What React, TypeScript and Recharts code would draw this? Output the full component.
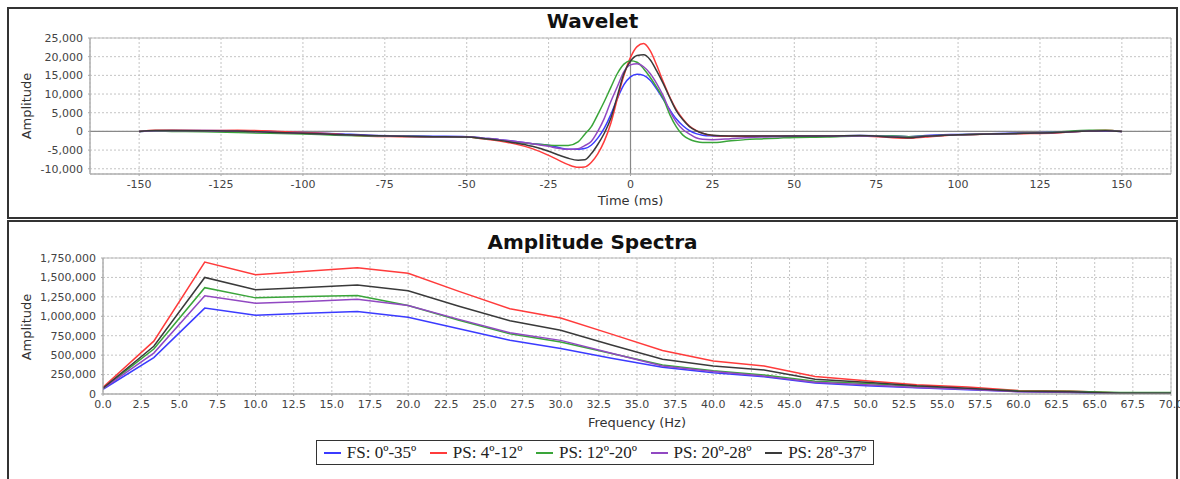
import {
  LineChart,
  Line,
  XAxis,
  YAxis,
  CartesianGrid,
  ReferenceLine,
  ReferenceArea,
} from 'recharts';

// wavelet samples (ms) and amplitudes per angle range
const waveTime = [
  -150, -145, -140, -130, -120, -110, -100, -90, -80, -70, -60, -50,
  -45, -40, -35, -30, -25,
  -22, -19, -16, -14, -12, -10, -8, -6, -4, -2,
  0, 2, 4, 6, 8, 10, 12, 14, 16, 18, 20, 22,
  25, 30, 35, 40, 45, 50,
  60, 70, 80, 85, 90, 100, 110, 120, 130, 140, 145, 150,
];
const waveFS = [
  0, 200, 250, 250, 200, 0, -300, -600, -1000, -1200, -1300, -1400,
  -1800, -2200, -2700, -3300, -3700,
  -4300, -4800, -4800, -4600, -3700, -1800, 900, 4500, 8800, 12500,
  14600, 15300, 15000, 13700, 11300, 8600, 5800, 3300, 1500, 200, -600, -1000,
  -1200, -1300, -1300, -1300, -1300, -1200,
  -1200, -1100, -1200, -1400, -1100, -800, -600, -400, -200, 100, 100, 0,
];
const wavePS1 = [
  0, 300, 300, 250, 300, 100, -300, -700, -1300, -1400, -1500, -1500,
  -2000, -2600, -3400, -4600, -6400,
  -7700, -8900, -9600, -9500, -8300, -6000, -2600, 2200, 8800, 15000,
  19800, 22700, 23500, 21600, 17700, 13300, 9200, 5800, 3300, 1400, 300, -500,
  -1100, -1300, -1300, -1300, -1300, -1300,
  -1300, -1200, -1700, -1800, -1500, -900, -700, -600, -400, 150, 300, 0,
];
const wavePS2 = [
  0, 100, 0, -100, -300, -500, -700, -1000, -1200, -1300, -1400, -1500,
  -1900, -2300, -2900, -3300, -3700,
  -3800, -3750, -2800, -800, 1200, 4500, 8000, 11800, 15500, 18000,
  18900, 18500, 16800, 14500, 11800, 8800, 4500, 1200, -1000, -2100, -2700, -3000,
  -3000, -2600, -2200, -2000, -1800, -1600,
  -1500, -1200, -1200, -1400, -1200, -900, -700, -500, -200, 300, 300, 0,
];
const wavePS3 = [
  0, 200, 200, 150, 50, -200, -500, -800, -1100, -1300, -1400, -1400,
  -1800, -2200, -2700, -3300, -4000,
  -4500, -4800, -4650, -3800, -2700, 0, 3500, 8000, 12000, 16000,
  17800, 18100, 17300, 15500, 12800, 9500, 5500, 2500, 500, -700, -1700, -2100,
  -2200, -2000, -1700, -1500, -1400, -1300,
  -1300, -1200, -1400, -1600, -1300, -900, -700, -500, -300, 100, 200, 0,
];
const wavePS4 = [
  0, 250, 250, 200, 100, -200, -500, -800, -1100, -1300, -1400, -1500,
  -1900, -2400, -3100, -4000, -5300,
  -6300, -7200, -7700, -7600, -6000, -3500, -500, 3500, 9500, 15500,
  18800, 20300, 20500, 19200, 16200, 12800, 9000, 5500, 3100, 1300, 200, -500,
  -1000, -1200, -1200, -1200, -1200, -1200,
  -1200, -1100, -1500, -1700, -1300, -900, -700, -500, -300, 100, 200, 0,
];

// amplitude spectra (Hz)
const freq = [
  0, 3.33, 6.67, 10, 13.33, 16.67, 20, 23.33, 26.67, 30, 33.33, 36.67, 40,
  43.33, 46.67, 50, 53.33, 56.67, 60, 63.33, 66.67, 70,
];
const specFS = [
  61000, 469000, 1105000, 1013000, 1040000, 1061000, 987000, 840000, 693000,
  585000, 460000, 343000, 274000, 222000, 143000, 107000, 80000, 54000, 31000,
  18000, 5000, 5000,
];
const specPS1 = [
  88000, 680000, 1697000, 1535000, 1580000, 1623000, 1553000, 1320000,
  1096000, 978000, 770000, 561000, 426000, 361000, 225000, 170000, 120000,
  90000, 45000, 40000, 13000, 13000,
];
const specPS2 = [
  70000, 579000, 1368000, 1237000, 1255000, 1268000, 1140000, 950000, 776000,
  668000, 520000, 374000, 300000, 243000, 165000, 135000, 95000, 65000, 40000,
  35000, 18000, 18000,
];
const specPS3 = [
  68000, 526000, 1263000, 1167000, 1190000, 1219000, 1140000, 960000, 789000,
  690000, 525000, 361000, 291000, 230000, 152000, 120000, 85000, 60000, 28000,
  22000, 8000, 8000,
];
const specPS4 = [
  75000, 614000, 1500000, 1342000, 1370000, 1404000, 1329000, 1130000, 943000,
  820000, 630000, 448000, 361000, 309000, 191000, 150000, 105000, 75000, 35000,
  30000, 10000, 10000,
];

const seriesKeys = ['fs', 'ps1', 'ps2', 'ps3', 'ps4'];
const seriesNames = ['FS: 0º-35º', 'PS: 4º-12º', 'PS: 12º-20º', 'PS: 20º-28º', 'PS: 28º-37º'];
const seriesColors = ['#3b3bff', '#ff3b3b', '#3aa53a', '#9148c2', '#3a3a3a'];

const waveTicksX = [-150, -125, -100, -75, -50, -25, 0, 25, 50, 75, 100, 125, 150];
const waveTicksY = [-10000, -5000, 0, 5000, 10000, 15000, 20000, 25000];
const specTicksX = Array.from({ length: 29 }, (_, i) => i * 2.5);
const specTicksY = [0, 250000, 500000, 750000, 1000000, 1250000, 1500000, 1750000];

const waveRows = waveTime.map((t, i) => ({
  x: t,
  fs: waveFS[i],
  ps1: wavePS1[i],
  ps2: wavePS2[i],
  ps3: wavePS3[i],
  ps4: wavePS4[i],
}));
const specRows = freq.map((f, i) => ({
  x: f,
  fs: specFS[i],
  ps1: specPS1[i],
  ps2: specPS2[i],
  ps3: specPS3[i],
  ps4: specPS4[i],
}));

const SANS = '"DejaVu Sans", Verdana, sans-serif';
const tickStyle = { fontSize: 11, fill: '#444', fontFamily: SANS };
const fmt = (v: number) => v.toLocaleString('en-US');

const abs = (left: number, top: number, extra: any = {}) => ({
  position: 'absolute' as const,
  left,
  top,
  ...extra,
});

function Plot({ top, rows, xDomain, yDomain, xTicks, yTicks, xFmt, yAxisWidth, zeroLines, curve }: any) {
  return (
    <div style={abs(0, top)}>
      <LineChart
        width={1180}
        height={220}
        data={rows}
        margin={{ top: 38, right: 9, left: 0, bottom: 16 }}
      >
        <CartesianGrid stroke="#c4c4c4" strokeDasharray="2 2" />
        <XAxis
          dataKey="x"
          type="number"
          domain={xDomain}
          ticks={xTicks}
          tickFormatter={xFmt}
          allowDataOverflow
          height={30}
          tick={tickStyle}
          tickSize={2}
          tickMargin={4}
          axisLine={{ stroke: '#aaa' }}
          tickLine={{ stroke: '#aaa' }}
          interval={0}
        />
        <YAxis
          type="number"
          domain={yDomain}
          ticks={yTicks}
          tickFormatter={fmt}
          allowDataOverflow
          width={yAxisWidth}
          tick={tickStyle}
          tickSize={2}
          tickMargin={5}
          axisLine={{ stroke: '#aaa' }}
          tickLine={{ stroke: '#aaa' }}
          interval={0}
        />
        <ReferenceArea
          x1={xDomain[0]}
          x2={xDomain[1]}
          y1={yDomain[0]}
          y2={yDomain[1]}
          fill="none"
          stroke="#bbb"
          strokeWidth={1}
          ifOverflow="visible"
        />
        {zeroLines && <ReferenceLine y={0} stroke="#888" strokeWidth={1.2} />}
        {zeroLines && <ReferenceLine x={0} stroke="#888" strokeWidth={1.2} />}
        {seriesKeys.map((k, i) => (
          <Line
            key={k}
            type={curve}
            dataKey={k}
            name={seriesNames[i]}
            stroke={seriesColors[i]}
            strokeWidth={1.5}
            dot={false}
            isAnimationActive={false}
          />
        ))}
      </LineChart>
    </div>
  );
}

const titleStyle = {
  textAlign: 'center' as const,
  fontFamily: SANS,
  fontWeight: 'bold' as const,
  fontSize: 20,
  lineHeight: '24px',
  color: '#111',
};
const axisLabelStyle = {
  textAlign: 'center' as const,
  fontFamily: SANS,
  fontSize: 13,
  lineHeight: '16px',
  color: '#333',
};

export default function App() {
  return (
    <div style={abs(0, 0, { width: 1180, height: 479, background: '#fff', overflow: 'hidden' })}>
      {/* panel frames */}
      <div style={abs(7, 7, { width: 1171, height: 212, border: '2px solid #333', boxSizing: 'border-box' })} />
      <div style={abs(7, 220, { width: 1171, height: 270, border: '2px solid #333', boxSizing: 'border-box' })} />

      {/* wavelet */}
      <div style={abs(7, 8.5, { width: 1171, ...titleStyle })}>Wavelet</div>
      <div style={abs(-13, 98, { width: 80, transform: 'rotate(-90deg)', ...axisLabelStyle })}>Amplitude</div>
      <div style={abs(90, 193, { width: 1081, ...axisLabelStyle })}>Time (ms)</div>
      <Plot
        top={0}
        rows={waveRows}
        xDomain={[-165, 165]}
        yDomain={[-11400, 25000]}
        xTicks={waveTicksX}
        yTicks={waveTicksY}
        xFmt={(v: number) => String(v)}
        yAxisWidth={90}
        zeroLines
        curve="monotone"
      />

      {/* amplitude spectra */}
      <div style={abs(7, 229.5, { width: 1171, ...titleStyle })}>Amplitude Spectra</div>
      <div style={abs(-13, 319, { width: 80, transform: 'rotate(-90deg)', ...axisLabelStyle })}>Amplitude</div>
      <div style={abs(103, 415, { width: 1068, ...axisLabelStyle })}>Frequency (Hz)</div>
      <Plot
        top={220}
        rows={specRows}
        xDomain={[0, 70]}
        yDomain={[0, 1750000]}
        xTicks={specTicksX}
        yTicks={specTicksY}
        xFmt={(v: number) => v.toFixed(1)}
        yAxisWidth={103}
        zeroLines={false}
        curve="linear"
      />

      {/* legend */}
      <div
        style={abs(316, 440, {
          width: 558,
          height: 25,
          boxSizing: 'border-box',
          border: '1.5px solid #333',
          display: 'flex',
          alignItems: 'center',
          justifyContent: 'space-around',
          fontFamily: '"Liberation Serif", "Times New Roman", serif',
          fontSize: 17,
          color: '#222',
          background: '#fff',
        })}
      >
        {seriesNames.map((n, i) => (
          <div key={n} style={{ display: 'flex', alignItems: 'center' }}>
            <div style={{ width: 17, height: 2, background: seriesColors[i], marginRight: 6 }} />
            <span>{n}</span>
          </div>
        ))}
      </div>
    </div>
  );
}
